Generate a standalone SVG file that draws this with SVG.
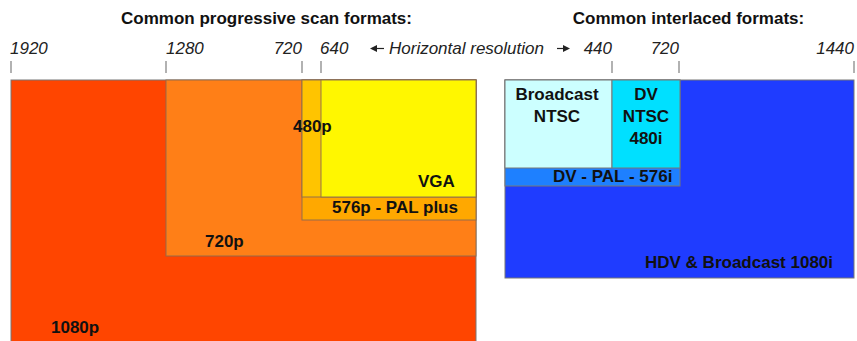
<svg xmlns="http://www.w3.org/2000/svg" width="857" height="341" viewBox="0 0 857 341">
<style>
.t{font-family:"Liberation Sans",Arial,sans-serif;font-weight:bold;font-size:17px;fill:#111}
.ax{font-family:"Liberation Sans",Arial,sans-serif;font-style:italic;font-size:17px;fill:#222}
.b{stroke:#8a6a50;stroke-width:1;stroke-opacity:0.9}
.bb{stroke:#777;stroke-width:1}
.tick{stroke:#999;stroke-width:1.5}
.arl{stroke:#222;stroke-width:1.2}
</style>
<rect width="857" height="341" fill="#fff"/>
<text class="t" x="266.5" y="24" text-anchor="middle">Common progressive scan formats:</text>
<text class="t" x="688.5" y="24" text-anchor="middle">Common interlaced formats:</text>
<g id="axis">
<text class="ax" x="10" y="54">1920</text>
<text class="ax" x="166" y="54">1280</text>
<text class="ax" x="302" y="54" text-anchor="end">720</text>
<text class="ax" x="320" y="54">640</text>
<polygon points="370,48.5 377,45 377,52" fill="#222"/>
<line class="arl" x1="376" y1="48.5" x2="384" y2="48.5"/>
<text class="ax" x="389" y="54">Horizontal resolution</text>
<line class="arl" x1="557" y1="48.5" x2="564" y2="48.5"/>
<polygon points="563,45 570,48.5 563,52" fill="#222"/>
<text class="ax" x="612" y="54" text-anchor="end">440</text>
<text class="ax" x="679" y="54" text-anchor="end">720</text>
<text class="ax" x="854" y="54" text-anchor="end">1440</text>
<line class="tick" x1="11" y1="61" x2="11" y2="73"/>
<line class="tick" x1="166" y1="61" x2="166" y2="73"/>
<line class="tick" x1="302" y1="61" x2="302" y2="73"/>
<line class="tick" x1="321" y1="61" x2="321" y2="73"/>
<line class="tick" x1="612" y1="61" x2="612" y2="73"/>
<line class="tick" x1="679" y1="61" x2="679" y2="73"/>
<line class="tick" x1="854" y1="61" x2="854" y2="73"/>
</g>
<g id="n1080p"><rect class="bb" x="11" y="80" width="465" height="270" fill="#FF4500"/><text class="t" x="51" y="333">1080p</text></g>
<g id="n720p"><rect class="b" x="166" y="80" width="310" height="176" fill="#FF7F17"/><text class="t" x="205" y="247">720p</text></g>
<g id="n576p"><rect class="b" x="302" y="80" width="174" height="140" fill="#FFA800"/><text class="t" x="332" y="213">576p - PAL plus</text></g>
<g id="n480p"><rect class="b" x="302" y="80" width="174" height="117" fill="#FFC400"/></g>
<g id="vga"><rect class="b" x="321" y="80" width="155" height="117" fill="#FFF700"/><text class="t" x="418" y="187">VGA</text></g>
<text class="t" x="293" y="132">480p</text>
<g id="n1080i"><rect class="bb" x="505" y="80" width="349" height="198" fill="#1F3CFF"/><text class="t" x="645" y="268">HDV &amp; Broadcast 1080i</text></g>
<g id="dvpal"><rect class="bb" x="505" y="80" width="175" height="106" fill="#1E80FF"/><text class="t" x="553" y="182">DV - PAL - 576i</text></g>
<g id="bntsc"><rect class="bb" x="505" y="80" width="107" height="88" fill="#CCFFFF"/><text class="t" x="557" y="100" text-anchor="middle">Broadcast</text><text class="t" x="557" y="122" text-anchor="middle">NTSC</text></g>
<g id="dvntsc"><rect class="bb" x="612" y="80" width="68" height="88" fill="#00E0FF"/><text class="t" x="646" y="100" text-anchor="middle">DV</text><text class="t" x="646" y="122" text-anchor="middle">NTSC</text><text class="t" x="646" y="144" text-anchor="middle">480i</text></g>
<g id="connectors"></g>
</svg>
